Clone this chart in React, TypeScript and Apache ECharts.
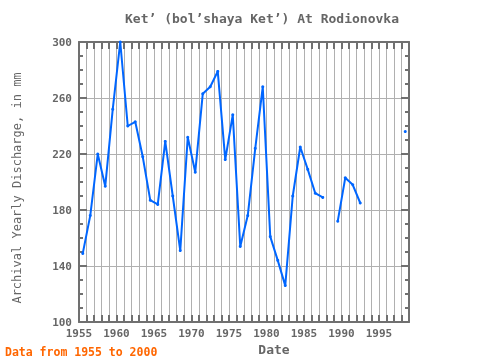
import React, { useEffect, useRef } from "react";
import * as echarts from "echarts";

// Water years 1955–1998 (plotted at mid-year)
const years = [
  1955, 1956, 1957, 1958, 1959, 1960, 1961, 1962, 1963, 1964,
  1965, 1966, 1967, 1968, 1969, 1970, 1971, 1972, 1973, 1974,
  1975, 1976, 1977, 1978, 1979, 1980, 1981, 1982, 1983, 1984,
  1985, 1986, 1987, 1988, 1989, 1990, 1991, 1992, 1993, 1994,
  1995, 1996, 1997, 1998,
];
// Archival yearly discharge, mm (null = no data)
const discharge: (number | null)[] = [
  149, 176, 220, 197, 252, 300, 240, 243, 218, 187,
  184, 229, 190, 151, 232, 207, 263, 268, 279, 216,
  248, 154, 176, 224, 268, 161, 144, 126, 190, 225,
  209, 192, 189, null, 172, 203, 198, 185, null, null,
  null, null, null, 236,
];
const yTicks = [100, 140, 180, 220, 260, 300];
const xLabelYears = [1955, 1960, 1965, 1970, 1975, 1980, 1985, 1990, 1995];

const FONT = "DejaVu Sans Mono";
const AXIS = "#707070";
const GRID = "#b0b0b0";
const TXT = "#666666";

export default function App() {
  const ref = useRef<HTMLDivElement>(null);
  useEffect(() => {
    if (!ref.current) return;
    const chart = echarts.init(ref.current, null, { renderer: "svg" });
    const data = years.map((y, i) => [y + 0.5, discharge[i]]);
    const xCommon = {
      type: "value" as const,
      min: 1955,
      max: 1999,
      interval: 1,
      axisLine: { show: true, lineStyle: { color: AXIS, width: 2 } },
      axisTick: { show: true, inside: true, length: 7, lineStyle: { color: AXIS, width: 2 } },
    };
    const yCommon = {
      type: "value" as const,
      min: yTicks[0],
      max: yTicks[yTicks.length - 1],
      interval: 40,
      axisLine: { show: true, lineStyle: { color: AXIS, width: 2 } },
      axisTick: { show: true, inside: true, length: 8, lineStyle: { color: AXIS, width: 2 } },
      minorTick: { show: true, splitNumber: 4, length: 4, lineStyle: { color: AXIS, width: 2 } },
    };
    chart.setOption({
      animation: false,
      title: {
        text: "Ket’ (bol’shaya Ket’) At Rodionovka",
        left: 257,
        textAlign: "center",
        top: 7,
        textStyle: { fontFamily: FONT, fontSize: 13, fontWeight: "bold", color: TXT },
      },
      grid: { left: 79, right: 71, top: 42, bottom: 38 },
      xAxis: [
        {
          ...xCommon,
          position: "bottom",
          axisLabel: {
            show: true,
            margin: 6,
            fontFamily: FONT,
            fontSize: 11,
            fontWeight: "bold",
            color: TXT,
            formatter: (v: number) => (xLabelYears.includes(v) ? String(v) : ""),
          },
          splitLine: { show: true, lineStyle: { color: GRID, width: 1 } },
        },
        {
          ...xCommon,
          position: "top",
          axisLabel: { show: false },
          splitLine: { show: false },
        },
      ],
      yAxis: [
        {
          ...yCommon,
          position: "left",
          axisLabel: {
            show: true,
            margin: 7,
            fontFamily: FONT,
            fontSize: 11,
            fontWeight: "bold",
            color: TXT,
          },
          splitLine: { show: true, lineStyle: { color: GRID, width: 1 } },
        },
        {
          ...yCommon,
          position: "right",
          axisLabel: { show: false },
          splitLine: { show: false },
        },
      ],
      series: [
        {
          type: "line",
          data,
          xAxisIndex: 0,
          yAxisIndex: 0,
          connectNulls: false,
          showSymbol: true,
          symbol: "circle",
          symbolSize: 3,
          lineStyle: { color: "#0066ff", width: 2 },
          itemStyle: { color: "#0066ff" },
        },
      ],
      graphic: [
        {
          type: "text",
          x: 17,
          y: 188,
          rotation: Math.PI / 2,
          style: {
            text: "Archival Yearly Discharge, in mm",
            fontFamily: FONT,
            fontSize: 12,
            fill: TXT,
            align: "center",
            verticalAlign: "middle",
          },
        },
        {
          type: "text",
          x: 274,
          y: 349,
          style: {
            text: "Date",
            fontFamily: FONT,
            fontSize: 13,
            fontWeight: "bold",
            fill: TXT,
            align: "center",
            verticalAlign: "middle",
          },
        },
        {
          type: "text",
          x: 5,
          y: 352,
          style: {
            text: "Data from 1955 to 2000",
            fontFamily: FONT,
            fontSize: 11.5,
            fontWeight: "bold",
            fill: "#ff6600",
            align: "left",
            verticalAlign: "middle",
          },
        },
      ],
    });
    return () => chart.dispose();
  }, []);
  return (
    <div
      ref={ref}
      style={{ position: "fixed", left: 0, top: 0, width: 480, height: 360 }}
    />
  );
}
